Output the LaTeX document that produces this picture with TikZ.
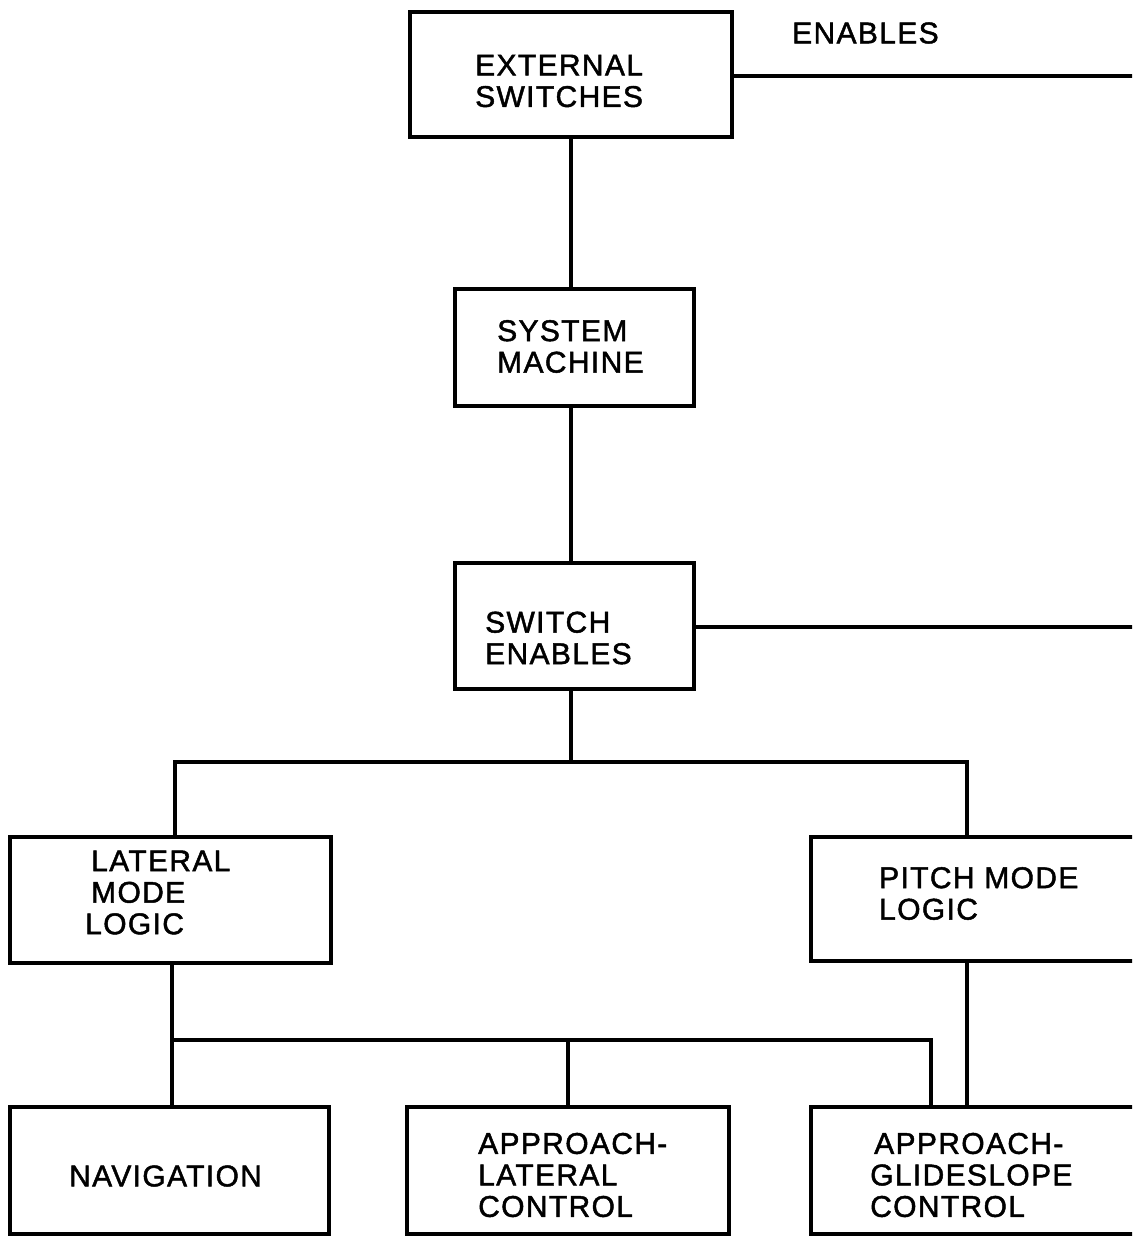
\documentclass[tikz,border=0pt]{standalone}
\usepackage{fontspec}
\newfontfamily\lblfont[LetterSpace=4.5,FakeBold=1.5]{Liberation Sans}
\tikzset{
  box/.style={draw, line width=3.8pt, inner sep=0pt},
  lbl/.style={font=\lblfont\fontsize{30}{31.5}\selectfont, align=left, inner sep=0pt, anchor=west},
  conn/.style={line width=3.6pt, line join=miter}
}
\begin{document}
\begin{tikzpicture}[x=1pt,y=-1pt]
\useasboundingbox (0,0) rectangle (1132,1236);
\clip (0,0) rectangle (1132,1236);
\fill[white] (0,0) rectangle (1132,1236);
% boxes
\node[box, minimum width=322pt, minimum height=125pt] (ext) at (571,74.5) {};
\node[box, minimum width=239pt, minimum height=117pt] (sys) at (574.5,347.5) {};
\node[box, minimum width=239pt, minimum height=126pt] (sw)  at (574.5,626) {};
\node[box, minimum width=321pt, minimum height=126pt] (lat) at (170.5,900) {};
\node[box, minimum width=339pt, minimum height=124pt] (pit) at (980.5,899) {};
\node[box, minimum width=319pt, minimum height=127pt] (nav) at (169.5,1170.5) {};
\node[box, minimum width=322pt, minimum height=127pt] (apl) at (568,1170.5) {};
\node[box, minimum width=339pt, minimum height=127pt] (apg) at (980.5,1170.5) {};
% labels
\node[lbl] (extT) at (475,81) {EXTERNAL\\SWITCHES};
\node[lbl] (sysT) at (497,346.5) {SYSTEM\\MACHINE};
\node[lbl] (swT)  at (485,638) {SWITCH\\ENABLES};
\node[lbl] (latT) at (91,892.5) {LATERAL\\MODE\\\hspace*{-6pt}LOGIC};
\node[lbl] (pitT) at (879,893.5) {PITCH MODE\\LOGIC};
\node[lbl] (navT) at (69,1176) {NAVIGATION};
\node[lbl] (aplT) at (478,1175) {APPROACH-\\LATERAL\\CONTROL};
\node[lbl] (apgT) at (870,1175) {\hspace*{4pt}APPROACH-\\GLIDESLOPE\\CONTROL};
\node[lbl] (enT)  at (792,33) {ENABLES};
% free ends and junctions
\coordinate (r1) at (1140,76);
\coordinate (r2) at (1140,627);
\coordinate (j1) at (571,762);
\coordinate (j1L) at (175,762);
\coordinate (j1R) at (967,762);
\coordinate (j2L) at (172,1040);
\coordinate (j2R) at (931,1040);
% connectors
\draw[conn] (ext.east |- r1) -- (r1);
\draw[conn] (sw.east |- r2) -- (r2);
\draw[conn] (ext.south) -- (ext.south |- sys.north);
\draw[conn] (sys.south -| j1) -- (sw.north -| j1);
\draw[conn] (sw.south -| j1) -- (j1);
\draw[conn] (j1L |- lat.north) -- (j1L) -- (j1R) -- (j1R |- pit.north);
\draw[conn] (j2L |- lat.south) -- (j2L |- nav.north);
\draw[conn] (j2L) -- (j2R) -- (j2R |- apg.north);
\draw[conn] (apl.north) -- (apl.north |- j2L);
\draw[conn] (j1R |- pit.south) -- (j1R |- apg.north);
\end{tikzpicture}
\end{document}
